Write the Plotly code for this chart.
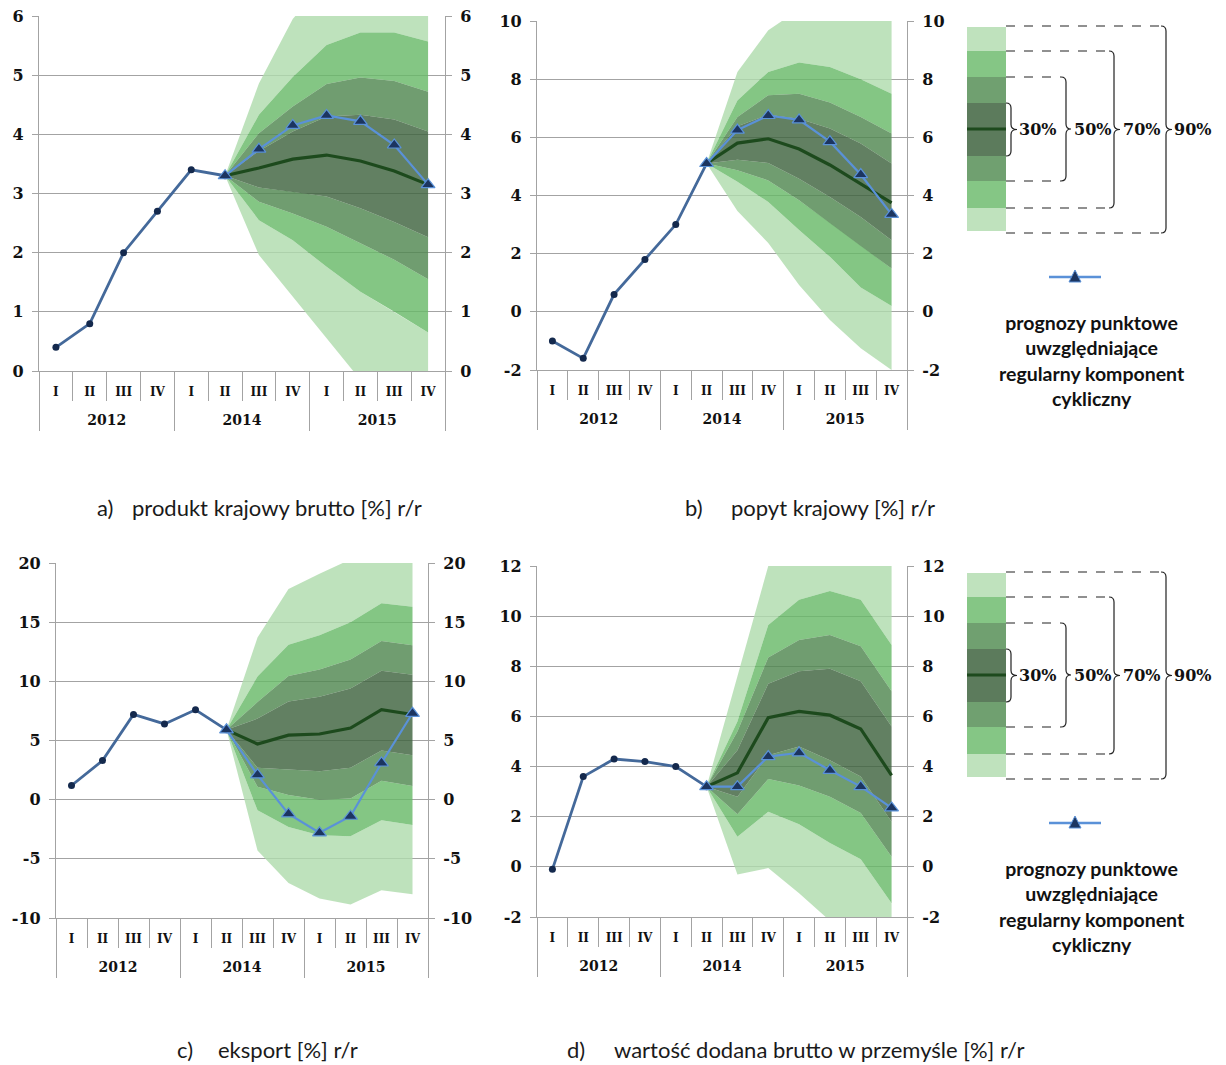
import plotly.graph_objects as go

W, H = 1226, 1065

# Category axis: year / quarter
YEARS = ["2012"] * 4 + ["2014"] * 4 + ["2015"] * 4
QUARTERS = ["I", "II", "III", "IV"] * 3
START = 5  # 2014 II: last observed quarter, origin of the fan

# a) produkt krajowy brutto
gdp_hist = [0.4, 0.8, 2.0, 2.7, 3.4, 3.3]
gdp_central = [3.43, 3.58, 3.65, 3.55, 3.38, 3.15]
gdp_cyclical = [3.75, 4.15, 4.32, 4.22, 3.82, 3.15]
gdp_up90 = [4.86, 5.95, 6.6, 7.0, 7.2, 7.3]
gdp_up70 = [4.33, 4.97, 5.51, 5.72, 5.72, 5.57]
gdp_up50 = [4.02, 4.47, 4.85, 4.96, 4.90, 4.72]
gdp_up30 = [3.72, 4.05, 4.30, 4.33, 4.25, 4.05]
gdp_lo30 = [3.10, 3.03, 2.95, 2.75, 2.52, 2.26]
gdp_lo50 = [2.86, 2.66, 2.44, 2.16, 1.88, 1.55]
gdp_lo70 = [2.55, 2.21, 1.76, 1.34, 1.00, 0.65]
gdp_lo90 = [1.96, 1.25, 0.56, -0.15, -0.7, -1.2]

# b) popyt krajowy
dd_hist = [-1.0, -1.6, 0.6, 1.8, 3.0, 5.1]
dd_central = [5.8, 5.95, 5.6, 5.05, 4.4, 3.75]
dd_cyclical = [6.25, 6.75, 6.6, 5.85, 4.72, 3.35]
dd_up90 = [8.25, 9.68, 10.4, 10.9, 11.0, 11.0]
dd_up70 = [7.27, 8.25, 8.57, 8.42, 8.0, 7.5]
dd_up50 = [6.7, 7.45, 7.5, 7.2, 6.7, 6.13]
dd_up30 = [6.38, 6.78, 6.64, 6.3, 5.79, 5.1]
dd_lo30 = [5.23, 5.12, 4.58, 3.95, 3.26, 2.46]
dd_lo50 = [4.87, 4.52, 3.84, 3.06, 2.26, 1.49]
dd_lo70 = [4.47, 3.78, 2.81, 1.89, 0.84, 0.2]
dd_lo90 = [3.47, 2.37, 0.92, -0.28, -1.25, -2.0]

# c) eksport
ex_hist = [1.2, 3.3, 7.2, 6.4, 7.6, 5.9]
ex_central = [4.7, 5.45, 5.55, 6.05, 7.6, 7.2]
ex_cyclical = [2.1, -1.2, -2.8, -1.4, 3.1, 7.3]
ex_up90 = [13.7, 17.8, 19.1, 20.3, 21.0, 21.2]
ex_up70 = [10.4, 13.1, 13.9, 15.0, 16.6, 16.3]
ex_up50 = [8.25, 10.45, 11.0, 11.85, 13.4, 13.05]
ex_up30 = [6.85, 8.3, 8.7, 9.4, 10.9, 10.55]
ex_lo30 = [2.7, 2.55, 2.4, 2.7, 4.15, 3.75]
ex_lo50 = [1.1, 0.4, 0.0, 0.1, 1.6, 1.15]
ex_lo70 = [-0.9, -2.3, -3.0, -3.1, -1.75, -2.15]
ex_lo90 = [-4.3, -7.05, -8.35, -8.85, -7.65, -8.0]

# d) wartość dodana brutto w przemyśle
ind_hist = [-0.1, 3.6, 4.3, 4.2, 4.0, 3.2]
ind_central = [3.75, 5.95, 6.2, 6.05, 5.5, 3.65]
ind_cyclical = [3.2, 4.4, 4.55, 3.85, 3.2, 2.35]
ind_up90 = [7.6, 12.0, 13.2, 13.5, 13.3, 12.5]
ind_up70 = [5.8, 9.65, 10.65, 11.0, 10.65, 8.85]
ind_up50 = [5.4, 8.35, 9.05, 9.25, 8.8, 7.0]
ind_up30 = [4.65, 7.3, 7.8, 7.9, 7.4, 5.6]
ind_lo30 = [2.8, 4.45, 4.8, 4.25, 3.6, 1.8]
ind_lo50 = [2.1, 3.5, 3.25, 2.8, 2.15, 0.4]
ind_lo70 = [1.2, 2.2, 1.7, 0.95, 0.3, -1.45]
ind_lo90 = [-0.3, -0.05, -1.05, -2.15, -2.8, -3.2]

CAPTIONS = [
    ("a)", "produkt krajowy brutto [%] r/r"),
    ("b)", "popyt krajowy [%] r/r"),
    ("c)", "eksport [%] r/r"),
    ("d)", "wartość dodana brutto w przemyśle [%] r/r"),
]
BAND_LABELS = ["30%", "50%", "70%", "90%"]
LEGEND_TEXT = "prognozy punktowe<br>uwzględniające<br>regularny komponent<br>cykliczny"

PANELS = [
    dict(hist=gdp_hist, central=gdp_central, cyc=gdp_cyclical,
         up=[gdp_up30, gdp_up50, gdp_up70, gdp_up90], lo=[gdp_lo30, gdp_lo50, gdp_lo70, gdp_lo90],
         yrange=[0, 6], dtick=1, box=(39, 445, 16, 371), cap=(95, 130, 508)),
    dict(hist=dd_hist, central=dd_central, cyc=dd_cyclical,
         up=[dd_up30, dd_up50, dd_up70, dd_up90], lo=[dd_lo30, dd_lo50, dd_lo70, dd_lo90],
         yrange=[-2, 10], dtick=2, box=(537, 907, 21, 370), cap=(683, 729, 508)),
    dict(hist=ex_hist, central=ex_central, cyc=ex_cyclical,
         up=[ex_up30, ex_up50, ex_up70, ex_up90], lo=[ex_lo30, ex_lo50, ex_lo70, ex_lo90],
         yrange=[-10, 20], dtick=5, box=(56, 428, 563, 918), cap=(175, 216, 1049)),
    dict(hist=ind_hist, central=ind_central, cyc=ind_cyclical,
         up=[ind_up30, ind_up50, ind_up70, ind_up90], lo=[ind_lo30, ind_lo50, ind_lo70, ind_lo90],
         yrange=[-2, 12], dtick=2, box=(537, 907, 566, 917), cap=(565, 612, 1049)),
]

# Styles
SERIF = "DejaVu Serif"
SANS = "Lato"
GRID = "#a3a3a3"
BAND_FILL = ["rgba(64,100,64,0.82)", "rgba(81,135,81,0.82)",
             "rgba(105,185,105,0.82)", "rgba(176,220,173,0.82)"]
BAND_SOLID = ["#5c7b5c", "#70a070", "#85c685", "#bfe2bd"]
CENTRAL = "#1d4a1d"
HIST = "#44699a"
DOT = "#14294d"
CYC = "#5a91d8"
TRI = "#1c3560"


def px(x):
    return x / W


def py(y):
    return 1 - y / H


# category positions on a numeric axis; year groups from the YEARS list
POS = list(range(len(QUARTERS)))
groups = []
for k, yr in enumerate(YEARS):
    if not groups or groups[-1][0] != yr:
        groups.append([yr, k, k])
    else:
        groups[-1][2] = k
YEAR_CENTERS = [(a + b) / 2 for _, a, b in groups]
YEAR_LABELS = [g[0] for g in groups]
YEAR_BOUNDS = [a - 0.5 for _, a, _b in groups] + [groups[-1][2] + 0.5]
QUARTER_BOUNDS = [k - 0.5 for k in POS] + [POS[-1] + 0.5]

fig = go.Figure()
layout = dict(width=W, height=H, autosize=False,
              margin=dict(l=0, r=0, t=0, b=0, autoexpand=False),
              paper_bgcolor="white", plot_bgcolor="rgba(0,0,0,0)", showlegend=False)

fpos = POS[START:]
fpos_loop = fpos + fpos[::-1]


def fmt(v):
    return f"{v:g}".replace("\u2212", "-")


for i, p in enumerate(PANELS):
    nx, ny = 2 * i + 1, 2 * i + 1
    xa = "x" if nx == 1 else f"x{nx}"
    xy = f"x{nx + 1}"
    yl = "y" if ny == 1 else f"y{ny}"
    yr = f"y{ny + 1}"
    origin = p["hist"][-1]

    def add_band(upper, lower, color):
        u = [origin] + upper
        l = [origin] + lower
        fig.add_trace(go.Scatter(x=fpos_loop, y=u + l[::-1], mode="lines", fill="toself",
                                 fillcolor=color, line=dict(width=0), hoverinfo="skip",
                                 xaxis=xa, yaxis=yl))

    # outer bands first, each band split into an upper and lower piece
    for k in (3, 2, 1):
        add_band(p["up"][k], p["up"][k - 1], BAND_FILL[k])
        add_band(p["lo"][k - 1], p["lo"][k], BAND_FILL[k])
    add_band(p["up"][0], p["lo"][0], BAND_FILL[0])

    fig.add_trace(go.Scatter(x=POS[:START + 1], y=p["hist"],
                             mode="lines+markers", line=dict(color=HIST, width=2.8),
                             marker=dict(symbol="circle", size=7, color=DOT),
                             xaxis=xa, yaxis=yl))
    fig.add_trace(go.Scatter(x=fpos, y=[origin] + p["central"], mode="lines",
                             line=dict(color=CENTRAL, width=3.2), xaxis=xa, yaxis=yl))
    # the point forecast sits on the twin axes (same ranges) so that they are drawn
    fig.add_trace(go.Scatter(x=fpos, y=[origin] + p["cyc"], mode="lines+markers",
                             line=dict(color=CYC, width=2.2),
                             marker=dict(symbol="triangle-up", size=12, color=TRI,
                                         line=dict(color=CYC, width=1.2)),
                             xaxis=xy, yaxis=yr))

    x0, x1, y0, y1 = p["box"]
    xkey = "xaxis" if nx == 1 else f"xaxis{nx}"
    xykey = f"xaxis{nx + 1}"
    ylkey = "yaxis" if ny == 1 else f"yaxis{ny}"
    yrkey = f"yaxis{ny + 1}"
    xrange = [QUARTER_BOUNDS[0], QUARTER_BOUNDS[-1]]
    # quarter labels with short separators
    layout[xkey] = dict(
        domain=[px(x0), px(x1)], anchor=yl, range=xrange,
        tickmode="array", tickvals=POS, ticktext=QUARTERS, ticks="",
        showline=True, linecolor=GRID, linewidth=1.3, showgrid=False, zeroline=False,
        minor=dict(tickmode="array", tickvals=QUARTER_BOUNDS, ticks="outside", ticklen=29,
                   tickcolor=GRID, tickwidth=1.2, showgrid=False),
        tickfont=dict(family=SERIF, size=12, color="#111", weight="bold"),
        ticklabelstandoff=9)
    # year labels with long separators
    layout[xykey] = dict(
        overlaying=xa, anchor="free", position=py(y1), side="bottom", range=xrange,
        tickmode="array", tickvals=YEAR_CENTERS, ticktext=YEAR_LABELS, ticks="",
        showline=False, showgrid=False, zeroline=False,
        minor=dict(tickmode="array", tickvals=YEAR_BOUNDS, ticks="outside", ticklen=59,
                   tickcolor=GRID, tickwidth=1.2, showgrid=False),
        tickfont=dict(family=SERIF, size=14, color="#111", weight="bold"),
        ticklabelstandoff=39)
    yfont = dict(family=SERIF, size=16, color="#111", weight="bold")
    lo_, hi_ = p["yrange"]
    yt = list(range(lo_, hi_ + 1, p["dtick"]))
    common = dict(range=p["yrange"], tickmode="array", tickvals=yt,
                  ticktext=[fmt(v) for v in yt], ticks="outside", ticklen=6,
                  tickcolor=GRID, tickwidth=1.3, showline=True, linecolor=GRID, linewidth=1.3,
                  zeroline=False, tickfont=yfont, ticklabelstandoff=5)
    layout[ylkey] = dict(domain=[py(y1), py(y0)], anchor=xa, showgrid=True, gridcolor=GRID,
                         gridwidth=1.3, **common)
    layout[yrkey] = dict(overlaying=yl, anchor=xa, side="right", showgrid=False, **common)

shapes = []
annotations = []

# captions under each panel
for p, (lab, txt) in zip(PANELS, CAPTIONS):
    xl, xt, yc = p["cap"]
    for xx, t in ((xl, lab), (xt, txt)):
        annotations.append(dict(x=px(xx), y=py(yc), xref="paper", yref="paper", text=t,
                                showarrow=False, xanchor="left", yanchor="middle",
                                font=dict(family=SANS, size=22, color="#1a1a1a")))


def brace_path(x_start, xv, xt, yt, yb, r=5):
    ym = (yt + yb) / 2
    pts = [("M", [(x_start, yt)]),
           ("Q", [(xv, yt), (xv, yt + r)]),
           ("L", [(xv, ym - r)]),
           ("Q", [(xv, ym), (xt, ym)]),
           ("Q", [(xv, ym), (xv, ym + r)]),
           ("L", [(xv, yb - r)]),
           ("Q", [(xv, yb), (x_start, yb)])]
    out = []
    for cmd, coords in pts:
        out.append(cmd + " " + " ".join(f"{px(a):.5f},{py(b):.5f}" for a, b in coords))
    return " ".join(out)


def draw_key(top):
    # stacked colour blocks of the fan key (light, 70, 50, 30 | 30, 50, 70, light)
    edges = [0, 24, 50, 76, 102, 129, 154, 181, 204]
    bx0, bx1 = 967, 1006
    order = [3, 2, 1, 0, 0, 1, 2, 3]
    for j, k in enumerate(order):
        shapes.append(dict(type="rect", xref="paper", yref="paper", x0=px(bx0), x1=px(bx1),
                           y0=py(top + edges[j + 1]), y1=py(top + edges[j]),
                           fillcolor=BAND_SOLID[k], line=dict(width=0)))
    mid = top + edges[4]
    shapes.append(dict(type="line", xref="paper", yref="paper", x0=px(bx0), x1=px(bx1),
                       y0=py(mid), y1=py(mid), line=dict(color=CENTRAL, width=3)))
    # brackets: (top offset, bottom offset, vertical x, tip x, label x)
    specs = [(76, 129, 1011, 1017, 1017),
             (50, 154, 1066, 1071, 1072),
             (24, 181, 1114, 1120, 1121),
             (-1, 206, 1166, 1172, 1172)]
    for (t_off, b_off, xv, xt, xlab), lab in zip(specs, BAND_LABELS):
        yt, yb = top + t_off, top + b_off
        if xv - bx1 > 10:
            for yy in (yt, yb):
                shapes.append(dict(type="line", xref="paper", yref="paper", x0=px(bx1),
                                   x1=px(xv - 5), y0=py(yy), y1=py(yy),
                                   line=dict(color="#222", width=1.1, dash="dash")))
            start = xv - 5
        else:
            start = bx1
        shapes.append(dict(type="path", xref="paper", yref="paper",
                           path=brace_path(start, xv, xt, yt, yb),
                           line=dict(color="#222", width=1.2)))
        annotations.append(dict(x=px(xlab), y=py(mid), xref="paper", yref="paper", text=lab,
                                showarrow=False, xanchor="left", yanchor="middle",
                                font=dict(family=SERIF, size=16, color="#111", weight="bold")))
    # point-forecast sample line with triangle
    ly = top + 250
    shapes.append(dict(type="line", xref="paper", yref="paper", x0=px(1049), x1=px(1101),
                       y0=py(ly), y1=py(ly), line=dict(color=CYC, width=2.5)))
    tri = (f"M {px(1069):.5f},{py(ly + 5):.5f} L {px(1081):.5f},{py(ly + 5):.5f} "
           f"L {px(1075):.5f},{py(ly - 7):.5f} Z")
    shapes.append(dict(type="path", xref="paper", yref="paper", path=tri, fillcolor=TRI,
                       line=dict(color=CYC, width=1)))
    annotations.append(dict(x=px(1092), y=py(top + 333.5), xref="paper", yref="paper",
                            text=LEGEND_TEXT, showarrow=False, xanchor="center",
                            yanchor="middle", align="center",
                            font=dict(family=SANS, size=19.5, color="#111", weight="bold")))


draw_key(27)
draw_key(573)

layout["shapes"] = shapes
layout["annotations"] = annotations
fig.update_layout(**layout)
fig.write_html("out.html", post_script="document.body.style.margin = '0';")
